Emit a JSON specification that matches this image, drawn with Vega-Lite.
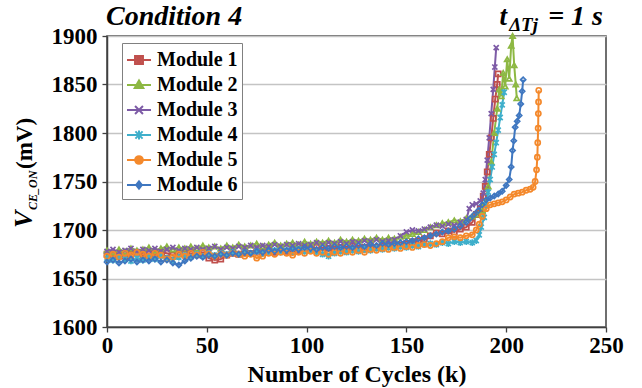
{
  "$schema": "https://vega.github.io/schema/vega-lite/v6.json",
  "width": 499,
  "height": 291,
  "autosize": {"type": "none"},
  "padding": {"left": 107, "top": 36, "right": 36, "bottom": 61},
  "background": "white",
  "config": {
    "view": {"stroke": "#404040", "strokeWidth": 1.5},
    "axis": {
      "labelFont": "Liberation Serif",
      "labelFontSize": 23,
      "labelFontWeight": "bold",
      "labelColor": "black",
      "titleFont": "Liberation Serif",
      "titleFontSize": 24,
      "titleFontWeight": "bold",
      "titleColor": "black",
      "domainColor": "#404040",
      "domainWidth": 1.5,
      "tickColor": "#404040",
      "tickWidth": 1.3,
      "tickSize": 5
    }
  },
  "resolve": {"scale": {"shape": "independent", "color": "independent"}},
  "data": {
    "values": [
      {"Module":"Module 1","k":0,"v":1675},{"Module":"Module 1","k":3,"v":1674},{"Module":"Module 1","k":6,"v":1676},{"Module":"Module 1","k":9,"v":1673},{"Module":"Module 1","k":12,"v":1675},{"Module":"Module 1","k":15,"v":1677},{"Module":"Module 1","k":18,"v":1674},{"Module":"Module 1","k":21,"v":1676},{"Module":"Module 1","k":24,"v":1675},{"Module":"Module 1","k":27,"v":1677},{"Module":"Module 1","k":30,"v":1676},{"Module":"Module 1","k":33,"v":1674},{"Module":"Module 1","k":36,"v":1677},{"Module":"Module 1","k":39,"v":1675},{"Module":"Module 1","k":42,"v":1678},{"Module":"Module 1","k":45,"v":1676},{"Module":"Module 1","k":48,"v":1674},{"Module":"Module 1","k":51,"v":1671},{"Module":"Module 1","k":54,"v":1669},{"Module":"Module 1","k":57,"v":1670},{"Module":"Module 1","k":60,"v":1674},{"Module":"Module 1","k":63,"v":1676},{"Module":"Module 1","k":66,"v":1675},{"Module":"Module 1","k":69,"v":1677},{"Module":"Module 1","k":72,"v":1676},{"Module":"Module 1","k":75,"v":1678},{"Module":"Module 1","k":78,"v":1677},{"Module":"Module 1","k":81,"v":1679},{"Module":"Module 1","k":84,"v":1677},{"Module":"Module 1","k":87,"v":1680},{"Module":"Module 1","k":90,"v":1678},{"Module":"Module 1","k":93,"v":1680},{"Module":"Module 1","k":96,"v":1679},{"Module":"Module 1","k":99,"v":1681},{"Module":"Module 1","k":102,"v":1680},{"Module":"Module 1","k":105,"v":1682},{"Module":"Module 1","k":108,"v":1679},{"Module":"Module 1","k":111,"v":1681},{"Module":"Module 1","k":114,"v":1680},{"Module":"Module 1","k":117,"v":1682},{"Module":"Module 1","k":120,"v":1680},{"Module":"Module 1","k":123,"v":1683},{"Module":"Module 1","k":126,"v":1681},{"Module":"Module 1","k":129,"v":1682},{"Module":"Module 1","k":132,"v":1684},{"Module":"Module 1","k":135,"v":1682},{"Module":"Module 1","k":138,"v":1684},{"Module":"Module 1","k":141,"v":1683},{"Module":"Module 1","k":144,"v":1685},{"Module":"Module 1","k":147,"v":1684},{"Module":"Module 1","k":150,"v":1686},{"Module":"Module 1","k":153,"v":1688},{"Module":"Module 1","k":156,"v":1689},{"Module":"Module 1","k":159,"v":1691},{"Module":"Module 1","k":162,"v":1694},{"Module":"Module 1","k":165,"v":1697},{"Module":"Module 1","k":168,"v":1696},{"Module":"Module 1","k":171,"v":1699},{"Module":"Module 1","k":174,"v":1698},{"Module":"Module 1","k":177,"v":1701},{"Module":"Module 1","k":180,"v":1703},{"Module":"Module 1","k":183,"v":1708},{"Module":"Module 1","k":185,"v":1716},{"Module":"Module 1","k":187,"v":1722},{"Module":"Module 1","k":188.5,"v":1735},{"Module":"Module 1","k":189.5,"v":1745},{"Module":"Module 1","k":190.5,"v":1760},{"Module":"Module 1","k":191.5,"v":1778},{"Module":"Module 1","k":192.5,"v":1795},{"Module":"Module 1","k":193.5,"v":1815},{"Module":"Module 1","k":194.5,"v":1835},{"Module":"Module 1","k":195.5,"v":1850},{"Module":"Module 1","k":196,"v":1861},

      {"Module":"Module 2","k":0,"v":1679},{"Module":"Module 2","k":3,"v":1677},{"Module":"Module 2","k":6,"v":1680},{"Module":"Module 2","k":9,"v":1678},{"Module":"Module 2","k":12,"v":1681},{"Module":"Module 2","k":15,"v":1679},{"Module":"Module 2","k":18,"v":1680},{"Module":"Module 2","k":21,"v":1682},{"Module":"Module 2","k":24,"v":1679},{"Module":"Module 2","k":27,"v":1681},{"Module":"Module 2","k":30,"v":1683},{"Module":"Module 2","k":33,"v":1680},{"Module":"Module 2","k":36,"v":1682},{"Module":"Module 2","k":39,"v":1681},{"Module":"Module 2","k":42,"v":1683},{"Module":"Module 2","k":45,"v":1681},{"Module":"Module 2","k":48,"v":1684},{"Module":"Module 2","k":51,"v":1682},{"Module":"Module 2","k":54,"v":1683},{"Module":"Module 2","k":57,"v":1681},{"Module":"Module 2","k":60,"v":1684},{"Module":"Module 2","k":63,"v":1682},{"Module":"Module 2","k":66,"v":1685},{"Module":"Module 2","k":69,"v":1683},{"Module":"Module 2","k":72,"v":1684},{"Module":"Module 2","k":75,"v":1686},{"Module":"Module 2","k":78,"v":1683},{"Module":"Module 2","k":81,"v":1685},{"Module":"Module 2","k":84,"v":1687},{"Module":"Module 2","k":87,"v":1684},{"Module":"Module 2","k":90,"v":1686},{"Module":"Module 2","k":93,"v":1687},{"Module":"Module 2","k":96,"v":1685},{"Module":"Module 2","k":99,"v":1688},{"Module":"Module 2","k":102,"v":1686},{"Module":"Module 2","k":105,"v":1688},{"Module":"Module 2","k":108,"v":1687},{"Module":"Module 2","k":111,"v":1689},{"Module":"Module 2","k":114,"v":1687},{"Module":"Module 2","k":117,"v":1690},{"Module":"Module 2","k":120,"v":1688},{"Module":"Module 2","k":123,"v":1690},{"Module":"Module 2","k":126,"v":1689},{"Module":"Module 2","k":129,"v":1691},{"Module":"Module 2","k":132,"v":1690},{"Module":"Module 2","k":135,"v":1692},{"Module":"Module 2","k":138,"v":1690},{"Module":"Module 2","k":141,"v":1692},{"Module":"Module 2","k":144,"v":1691},{"Module":"Module 2","k":147,"v":1693},{"Module":"Module 2","k":150,"v":1694},{"Module":"Module 2","k":153,"v":1696},{"Module":"Module 2","k":156,"v":1698},{"Module":"Module 2","k":159,"v":1700},{"Module":"Module 2","k":162,"v":1703},{"Module":"Module 2","k":165,"v":1705},{"Module":"Module 2","k":168,"v":1707},{"Module":"Module 2","k":171,"v":1708},{"Module":"Module 2","k":174,"v":1710},{"Module":"Module 2","k":177,"v":1709},{"Module":"Module 2","k":180,"v":1712},{"Module":"Module 2","k":183,"v":1714},{"Module":"Module 2","k":186,"v":1716},{"Module":"Module 2","k":188,"v":1720},{"Module":"Module 2","k":189.5,"v":1728},{"Module":"Module 2","k":191,"v":1745},{"Module":"Module 2","k":192.5,"v":1770},{"Module":"Module 2","k":194,"v":1800},{"Module":"Module 2","k":195.5,"v":1825},{"Module":"Module 2","k":196.5,"v":1845},{"Module":"Module 2","k":197.5,"v":1838},{"Module":"Module 2","k":198.5,"v":1862},{"Module":"Module 2","k":199.5,"v":1848},{"Module":"Module 2","k":200.5,"v":1876},{"Module":"Module 2","k":201.5,"v":1856},{"Module":"Module 2","k":202.5,"v":1890},{"Module":"Module 2","k":203.2,"v":1900},{"Module":"Module 2","k":204,"v":1870},{"Module":"Module 2","k":204.8,"v":1850},{"Module":"Module 2","k":205.3,"v":1836},

      {"Module":"Module 3","k":0,"v":1678},{"Module":"Module 3","k":3,"v":1680},{"Module":"Module 3","k":6,"v":1677},{"Module":"Module 3","k":9,"v":1679},{"Module":"Module 3","k":12,"v":1681},{"Module":"Module 3","k":15,"v":1678},{"Module":"Module 3","k":18,"v":1680},{"Module":"Module 3","k":21,"v":1679},{"Module":"Module 3","k":24,"v":1681},{"Module":"Module 3","k":27,"v":1678},{"Module":"Module 3","k":30,"v":1680},{"Module":"Module 3","k":33,"v":1682},{"Module":"Module 3","k":36,"v":1679},{"Module":"Module 3","k":39,"v":1681},{"Module":"Module 3","k":42,"v":1680},{"Module":"Module 3","k":45,"v":1682},{"Module":"Module 3","k":48,"v":1680},{"Module":"Module 3","k":51,"v":1681},{"Module":"Module 3","k":54,"v":1683},{"Module":"Module 3","k":57,"v":1680},{"Module":"Module 3","k":60,"v":1682},{"Module":"Module 3","k":63,"v":1681},{"Module":"Module 3","k":66,"v":1683},{"Module":"Module 3","k":69,"v":1682},{"Module":"Module 3","k":72,"v":1684},{"Module":"Module 3","k":75,"v":1682},{"Module":"Module 3","k":78,"v":1684},{"Module":"Module 3","k":81,"v":1683},{"Module":"Module 3","k":84,"v":1685},{"Module":"Module 3","k":87,"v":1683},{"Module":"Module 3","k":90,"v":1685},{"Module":"Module 3","k":93,"v":1684},{"Module":"Module 3","k":96,"v":1686},{"Module":"Module 3","k":99,"v":1684},{"Module":"Module 3","k":102,"v":1685},{"Module":"Module 3","k":105,"v":1687},{"Module":"Module 3","k":108,"v":1685},{"Module":"Module 3","k":111,"v":1687},{"Module":"Module 3","k":114,"v":1686},{"Module":"Module 3","k":117,"v":1688},{"Module":"Module 3","k":120,"v":1686},{"Module":"Module 3","k":123,"v":1688},{"Module":"Module 3","k":126,"v":1687},{"Module":"Module 3","k":129,"v":1689},{"Module":"Module 3","k":132,"v":1688},{"Module":"Module 3","k":135,"v":1690},{"Module":"Module 3","k":138,"v":1688},{"Module":"Module 3","k":141,"v":1689},{"Module":"Module 3","k":144,"v":1690},{"Module":"Module 3","k":147,"v":1694},{"Module":"Module 3","k":150,"v":1698},{"Module":"Module 3","k":153,"v":1700},{"Module":"Module 3","k":156,"v":1699},{"Module":"Module 3","k":159,"v":1701},{"Module":"Module 3","k":162,"v":1703},{"Module":"Module 3","k":165,"v":1705},{"Module":"Module 3","k":168,"v":1704},{"Module":"Module 3","k":171,"v":1706},{"Module":"Module 3","k":174,"v":1705},{"Module":"Module 3","k":177,"v":1708},{"Module":"Module 3","k":180,"v":1711},{"Module":"Module 3","k":181.5,"v":1722},{"Module":"Module 3","k":183,"v":1726},{"Module":"Module 3","k":185,"v":1727},{"Module":"Module 3","k":187,"v":1730},{"Module":"Module 3","k":188.5,"v":1738},{"Module":"Module 3","k":189.5,"v":1752},{"Module":"Module 3","k":190.5,"v":1772},{"Module":"Module 3","k":191.5,"v":1795},{"Module":"Module 3","k":192.5,"v":1820},{"Module":"Module 3","k":193.5,"v":1845},{"Module":"Module 3","k":194.3,"v":1868},{"Module":"Module 3","k":195,"v":1888},

      {"Module":"Module 4","k":0,"v":1671},{"Module":"Module 4","k":3,"v":1669},{"Module":"Module 4","k":6,"v":1672},{"Module":"Module 4","k":9,"v":1670},{"Module":"Module 4","k":12,"v":1668},{"Module":"Module 4","k":15,"v":1671},{"Module":"Module 4","k":18,"v":1669},{"Module":"Module 4","k":21,"v":1672},{"Module":"Module 4","k":24,"v":1670},{"Module":"Module 4","k":27,"v":1673},{"Module":"Module 4","k":30,"v":1671},{"Module":"Module 4","k":33,"v":1669},{"Module":"Module 4","k":36,"v":1672},{"Module":"Module 4","k":39,"v":1674},{"Module":"Module 4","k":42,"v":1672},{"Module":"Module 4","k":45,"v":1675},{"Module":"Module 4","k":48,"v":1673},{"Module":"Module 4","k":51,"v":1676},{"Module":"Module 4","k":54,"v":1674},{"Module":"Module 4","k":57,"v":1676},{"Module":"Module 4","k":60,"v":1675},{"Module":"Module 4","k":63,"v":1677},{"Module":"Module 4","k":66,"v":1675},{"Module":"Module 4","k":69,"v":1677},{"Module":"Module 4","k":72,"v":1676},{"Module":"Module 4","k":75,"v":1678},{"Module":"Module 4","k":78,"v":1676},{"Module":"Module 4","k":81,"v":1677},{"Module":"Module 4","k":84,"v":1679},{"Module":"Module 4","k":87,"v":1677},{"Module":"Module 4","k":90,"v":1679},{"Module":"Module 4","k":93,"v":1678},{"Module":"Module 4","k":96,"v":1680},{"Module":"Module 4","k":99,"v":1678},{"Module":"Module 4","k":102,"v":1679},{"Module":"Module 4","k":105,"v":1677},{"Module":"Module 4","k":108,"v":1675},{"Module":"Module 4","k":111,"v":1673},{"Module":"Module 4","k":114,"v":1676},{"Module":"Module 4","k":117,"v":1678},{"Module":"Module 4","k":120,"v":1677},{"Module":"Module 4","k":123,"v":1679},{"Module":"Module 4","k":126,"v":1678},{"Module":"Module 4","k":129,"v":1680},{"Module":"Module 4","k":132,"v":1679},{"Module":"Module 4","k":135,"v":1681},{"Module":"Module 4","k":138,"v":1680},{"Module":"Module 4","k":141,"v":1682},{"Module":"Module 4","k":144,"v":1681},{"Module":"Module 4","k":147,"v":1683},{"Module":"Module 4","k":150,"v":1682},{"Module":"Module 4","k":153,"v":1684},{"Module":"Module 4","k":156,"v":1683},{"Module":"Module 4","k":159,"v":1685},{"Module":"Module 4","k":162,"v":1686},{"Module":"Module 4","k":165,"v":1685},{"Module":"Module 4","k":168,"v":1687},{"Module":"Module 4","k":171,"v":1686},{"Module":"Module 4","k":174,"v":1688},{"Module":"Module 4","k":177,"v":1687},{"Module":"Module 4","k":180,"v":1688},{"Module":"Module 4","k":183,"v":1687},{"Module":"Module 4","k":185,"v":1689},{"Module":"Module 4","k":186.5,"v":1695},{"Module":"Module 4","k":187.5,"v":1703},{"Module":"Module 4","k":189,"v":1713},{"Module":"Module 4","k":190,"v":1726},{"Module":"Module 4","k":191,"v":1739},{"Module":"Module 4","k":192,"v":1752},{"Module":"Module 4","k":193,"v":1765},{"Module":"Module 4","k":194,"v":1778},{"Module":"Module 4","k":195,"v":1790},{"Module":"Module 4","k":196,"v":1803},{"Module":"Module 4","k":197,"v":1816},{"Module":"Module 4","k":198,"v":1829},{"Module":"Module 4","k":199,"v":1842},

      {"Module":"Module 5","k":0,"v":1673},{"Module":"Module 5","k":3,"v":1675},{"Module":"Module 5","k":6,"v":1672},{"Module":"Module 5","k":9,"v":1676},{"Module":"Module 5","k":12,"v":1674},{"Module":"Module 5","k":15,"v":1677},{"Module":"Module 5","k":18,"v":1675},{"Module":"Module 5","k":21,"v":1673},{"Module":"Module 5","k":24,"v":1676},{"Module":"Module 5","k":27,"v":1674},{"Module":"Module 5","k":30,"v":1670},{"Module":"Module 5","k":33,"v":1672},{"Module":"Module 5","k":36,"v":1675},{"Module":"Module 5","k":39,"v":1673},{"Module":"Module 5","k":42,"v":1676},{"Module":"Module 5","k":45,"v":1674},{"Module":"Module 5","k":48,"v":1677},{"Module":"Module 5","k":51,"v":1675},{"Module":"Module 5","k":54,"v":1673},{"Module":"Module 5","k":57,"v":1675},{"Module":"Module 5","k":60,"v":1674},{"Module":"Module 5","k":63,"v":1676},{"Module":"Module 5","k":66,"v":1675},{"Module":"Module 5","k":69,"v":1673},{"Module":"Module 5","k":72,"v":1675},{"Module":"Module 5","k":75,"v":1671},{"Module":"Module 5","k":78,"v":1673},{"Module":"Module 5","k":81,"v":1676},{"Module":"Module 5","k":84,"v":1675},{"Module":"Module 5","k":87,"v":1677},{"Module":"Module 5","k":90,"v":1676},{"Module":"Module 5","k":93,"v":1674},{"Module":"Module 5","k":96,"v":1677},{"Module":"Module 5","k":99,"v":1676},{"Module":"Module 5","k":102,"v":1678},{"Module":"Module 5","k":105,"v":1676},{"Module":"Module 5","k":108,"v":1677},{"Module":"Module 5","k":111,"v":1675},{"Module":"Module 5","k":114,"v":1677},{"Module":"Module 5","k":117,"v":1676},{"Module":"Module 5","k":120,"v":1678},{"Module":"Module 5","k":123,"v":1677},{"Module":"Module 5","k":126,"v":1679},{"Module":"Module 5","k":129,"v":1677},{"Module":"Module 5","k":132,"v":1680},{"Module":"Module 5","k":135,"v":1679},{"Module":"Module 5","k":138,"v":1681},{"Module":"Module 5","k":141,"v":1680},{"Module":"Module 5","k":144,"v":1682},{"Module":"Module 5","k":147,"v":1681},{"Module":"Module 5","k":150,"v":1683},{"Module":"Module 5","k":153,"v":1682},{"Module":"Module 5","k":156,"v":1684},{"Module":"Module 5","k":159,"v":1685},{"Module":"Module 5","k":162,"v":1684},{"Module":"Module 5","k":165,"v":1686},{"Module":"Module 5","k":168,"v":1688},{"Module":"Module 5","k":171,"v":1692},{"Module":"Module 5","k":174,"v":1693},{"Module":"Module 5","k":177,"v":1692},{"Module":"Module 5","k":180,"v":1694},{"Module":"Module 5","k":183,"v":1695},{"Module":"Module 5","k":185,"v":1700},{"Module":"Module 5","k":186.5,"v":1706},{"Module":"Module 5","k":188,"v":1714},{"Module":"Module 5","k":190,"v":1722},{"Module":"Module 5","k":192,"v":1726},{"Module":"Module 5","k":194,"v":1727},{"Module":"Module 5","k":196,"v":1728},{"Module":"Module 5","k":198,"v":1729},{"Module":"Module 5","k":200,"v":1731},{"Module":"Module 5","k":202,"v":1734},{"Module":"Module 5","k":204,"v":1737},{"Module":"Module 5","k":206,"v":1738},{"Module":"Module 5","k":208,"v":1739},{"Module":"Module 5","k":210,"v":1741},{"Module":"Module 5","k":212,"v":1742},{"Module":"Module 5","k":213.5,"v":1744},{"Module":"Module 5","k":214.5,"v":1750},{"Module":"Module 5","k":215.2,"v":1762},{"Module":"Module 5","k":215.6,"v":1775},{"Module":"Module 5","k":215.8,"v":1790},{"Module":"Module 5","k":216,"v":1805},{"Module":"Module 5","k":216.1,"v":1820},{"Module":"Module 5","k":216.2,"v":1832},{"Module":"Module 5","k":216.3,"v":1844},

      {"Module":"Module 6","k":0,"v":1667},{"Module":"Module 6","k":3,"v":1669},{"Module":"Module 6","k":6,"v":1666},{"Module":"Module 6","k":9,"v":1668},{"Module":"Module 6","k":12,"v":1670},{"Module":"Module 6","k":15,"v":1667},{"Module":"Module 6","k":18,"v":1669},{"Module":"Module 6","k":21,"v":1668},{"Module":"Module 6","k":24,"v":1670},{"Module":"Module 6","k":27,"v":1667},{"Module":"Module 6","k":30,"v":1669},{"Module":"Module 6","k":33,"v":1666},{"Module":"Module 6","k":36,"v":1664},{"Module":"Module 6","k":39,"v":1668},{"Module":"Module 6","k":42,"v":1671},{"Module":"Module 6","k":45,"v":1673},{"Module":"Module 6","k":48,"v":1672},{"Module":"Module 6","k":51,"v":1674},{"Module":"Module 6","k":54,"v":1673},{"Module":"Module 6","k":57,"v":1675},{"Module":"Module 6","k":60,"v":1674},{"Module":"Module 6","k":63,"v":1676},{"Module":"Module 6","k":66,"v":1675},{"Module":"Module 6","k":69,"v":1677},{"Module":"Module 6","k":72,"v":1676},{"Module":"Module 6","k":75,"v":1678},{"Module":"Module 6","k":78,"v":1677},{"Module":"Module 6","k":81,"v":1679},{"Module":"Module 6","k":84,"v":1678},{"Module":"Module 6","k":87,"v":1680},{"Module":"Module 6","k":90,"v":1679},{"Module":"Module 6","k":93,"v":1681},{"Module":"Module 6","k":96,"v":1680},{"Module":"Module 6","k":99,"v":1682},{"Module":"Module 6","k":102,"v":1681},{"Module":"Module 6","k":105,"v":1680},{"Module":"Module 6","k":108,"v":1682},{"Module":"Module 6","k":111,"v":1681},{"Module":"Module 6","k":114,"v":1683},{"Module":"Module 6","k":117,"v":1682},{"Module":"Module 6","k":120,"v":1683},{"Module":"Module 6","k":123,"v":1682},{"Module":"Module 6","k":126,"v":1684},{"Module":"Module 6","k":129,"v":1683},{"Module":"Module 6","k":132,"v":1685},{"Module":"Module 6","k":135,"v":1684},{"Module":"Module 6","k":138,"v":1686},{"Module":"Module 6","k":141,"v":1685},{"Module":"Module 6","k":144,"v":1686},{"Module":"Module 6","k":147,"v":1687},{"Module":"Module 6","k":150,"v":1688},{"Module":"Module 6","k":153,"v":1689},{"Module":"Module 6","k":156,"v":1691},{"Module":"Module 6","k":159,"v":1692},{"Module":"Module 6","k":162,"v":1694},{"Module":"Module 6","k":165,"v":1696},{"Module":"Module 6","k":168,"v":1698},{"Module":"Module 6","k":171,"v":1699},{"Module":"Module 6","k":174,"v":1701},{"Module":"Module 6","k":177,"v":1704},{"Module":"Module 6","k":180,"v":1708},{"Module":"Module 6","k":182,"v":1712},{"Module":"Module 6","k":184,"v":1716},{"Module":"Module 6","k":186,"v":1720},{"Module":"Module 6","k":188,"v":1726},{"Module":"Module 6","k":190,"v":1731},{"Module":"Module 6","k":192,"v":1733},{"Module":"Module 6","k":194,"v":1735},{"Module":"Module 6","k":196,"v":1737},{"Module":"Module 6","k":198,"v":1740},{"Module":"Module 6","k":200,"v":1746},{"Module":"Module 6","k":201.5,"v":1752},{"Module":"Module 6","k":202.5,"v":1765},{"Module":"Module 6","k":203.2,"v":1782},{"Module":"Module 6","k":203.8,"v":1792},{"Module":"Module 6","k":204.5,"v":1806},{"Module":"Module 6","k":205.5,"v":1812},{"Module":"Module 6","k":206.5,"v":1818},{"Module":"Module 6","k":207.3,"v":1830},{"Module":"Module 6","k":208,"v":1843},{"Module":"Module 6","k":208.5,"v":1855}
    ]
  },
  "layer": [
    {
      "mark": {"type": "line", "strokeWidth": 2},
      "encoding": {
        "x": {
          "field": "k", "type": "quantitative",
          "scale": {"domain": [0, 250], "nice": false},
          "axis": {"values": [0, 50, 100, 150, 200, 250], "format": "d", "grid": false, "labelFlush": false, "title": "Number of Cycles (k)", "labelFont": "Liberation Serif", "labelFontSize": 23, "labelFontWeight": "bold", "labelColor": "black", "labelPadding": 2, "titleBaseline": "alphabetic", "titleY": 54}
        },
        "y": {
          "field": "v", "type": "quantitative",
          "scale": {"domain": [1600, 1900], "nice": false, "zero": false},
          "axis": {"values": [1600, 1650, 1700, 1750, 1800, 1850, 1900], "format": "d", "grid": true, "labelFlush": false, "gridColor": "#c4c4c4", "gridWidth": 1.5, "title": null, "labelFont": "Liberation Serif", "labelFontSize": 23, "labelFontWeight": "bold", "labelColor": "black", "labelPadding": 5}
        },
        "color": {
          "field": "Module", "type": "nominal",
          "scale": {"domain": ["Module 1", "Module 2", "Module 3", "Module 4", "Module 5", "Module 6"], "range": ["#C0504D", "#8DB843", "#7D5BA6", "#3FAFCB", "#F4892C", "#3F77C0"]},
          "legend": null
        }
      }
    },
    {
      "mark": {"type": "point", "filled": false, "size": 26, "strokeWidth": 1.7, "opacity": 1},
      "encoding": {
        "x": {"field": "k", "type": "quantitative"},
        "y": {"field": "v", "type": "quantitative"},
        "color": {
          "field": "Module", "type": "nominal",
          "scale": {"domain": ["Module 1", "Module 2", "Module 3", "Module 4", "Module 5", "Module 6"], "range": ["#C0504D", "#8DB843", "#7D5BA6", "#3FAFCB", "#F4892C", "#3F77C0"]},
          "legend": null
        },
        "shape": {
          "field": "Module", "type": "nominal",
          "scale": {"domain": ["Module 1", "Module 2", "Module 3", "Module 4", "Module 5", "Module 6"], "range": ["square", "triangle-up", "M-1,-1L1,1M-1,1L1,-1", "M-1,-1L1,1M-1,1L1,-1M0,-1.3V1.3", "circle", "diamond"]},
          "legend": null
        }
      }
    },
    {
      "data": {"values": []},
      "mark": {"type": "point", "filled": false, "opacity": 1, "strokeWidth": 2},
      "encoding": {
        "x": {"field": "k", "type": "quantitative"},
        "y": {"field": "v", "type": "quantitative"},
        "color": {
          "field": "Module", "type": "nominal",
          "scale": {"domain": ["Module 1", "Module 2", "Module 3", "Module 4", "Module 5", "Module 6"], "range": ["#C0504D", "#8DB843", "#7D5BA6", "#3FAFCB", "#F4892C", "#3F77C0"]},
          "legend": {
            "title": null, "orient": "none", "legendX": 15, "legendY": 7,
            "fillColor": "white", "strokeColor": "#808080", "padding": 4, "rowPadding": 2,
            "labelFont": "Liberation Serif", "labelFontSize": 20, "labelFontWeight": "bold", "labelColor": "black", "labelOffset": 5,
            "symbolSize": 576, "symbolStrokeWidth": 2, "symbolOpacity": 1
          }
        },
        "shape": {
          "field": "Module", "type": "nominal",
          "scale": {"domain": ["Module 1", "Module 2", "Module 3", "Module 4", "Module 5", "Module 6"], "range": [
            "M-1,0H1M-0.33,-0.33H0.33V0.33H-0.33ZM-0.16,-0.16H0.16V0.16H-0.16ZM-0.04,-0.04H0.04V0.04H-0.04Z",
            "M-1,0H1M0,-0.38L0.36,0.26H-0.36ZM0,-0.18L0.17,0.13H-0.17Z",
            "M-1,0H1M-0.33,-0.33L0.33,0.33M-0.33,0.33L0.33,-0.33",
            "M-1,0H1M-0.3,-0.3L0.3,0.3M-0.3,0.3L0.3,-0.3M0,-0.38V0.38",
            "M-1,0H1M0.32,0A0.32,0.32,0,1,1,-0.32,0A0.32,0.32,0,1,1,0.32,0ZM0.15,0A0.15,0.15,0,1,1,-0.15,0A0.15,0.15,0,1,1,0.15,0Z",
            "M-1,0H1M0,-0.3L0.24,0L0,0.3L-0.24,0ZM0,-0.12L0.1,0L0,0.12L-0.1,0Z"
          ]},
          "legend": {
            "title": null, "orient": "none", "legendX": 15, "legendY": 7,
            "fillColor": "white", "strokeColor": "#808080", "padding": 4, "rowPadding": 2,
            "labelFont": "Liberation Serif", "labelFontSize": 20, "labelFontWeight": "bold", "labelColor": "black", "labelOffset": 5,
            "symbolSize": 576, "symbolStrokeWidth": 2, "symbolOpacity": 1
          }
        }
      }
    },
    {
      "data": {"values": [{}]},
      "mark": {"type": "text", "text": "Condition 4", "align": "left", "baseline": "alphabetic", "dx": -1, "dy": -11, "font": "Liberation Serif", "fontSize": 28, "fontWeight": "bold", "fontStyle": "italic", "color": "black"},
      "encoding": {"x": {"datum": 0, "type": "quantitative"}, "y": {"datum": 1900, "type": "quantitative"}}
    },
    {
      "data": {"values": [{}]},
      "mark": {"type": "text", "text": "V", "angle": 270, "align": "left", "baseline": "alphabetic", "dx": -46.5, "dy": -75, "font": "Liberation Serif", "fontSize": 26, "fontWeight": "bold", "fontStyle": "italic", "color": "black"},
      "encoding": {"x": {"datum": 0, "type": "quantitative"}, "y": {"datum": 1750, "type": "quantitative"}}
    },
    {
      "data": {"values": [{}]},
      "mark": {"type": "text", "text": "CE_ON", "angle": 270, "align": "left", "baseline": "alphabetic", "dx": -28.5, "dy": -70, "font": "Liberation Serif", "fontSize": 12, "fontWeight": "bold", "fontStyle": "italic", "color": "black"},
      "encoding": {"x": {"datum": 0, "type": "quantitative"}, "y": {"datum": 1750, "type": "quantitative"}}
    },
    {
      "data": {"values": [{}]},
      "mark": {"type": "text", "text": "(mV)", "angle": 270, "align": "left", "baseline": "alphabetic", "dx": 12.5, "dy": -75, "font": "Liberation Serif", "fontSize": 23, "fontWeight": "bold", "color": "black"},
      "encoding": {"x": {"datum": 0, "type": "quantitative"}, "y": {"datum": 1750, "type": "quantitative"}}
    },
    {
      "data": {"values": [{}]},
      "mark": {"type": "text", "text": "t", "align": "right", "baseline": "alphabetic", "dx": -99, "dy": -11, "font": "Liberation Serif", "fontSize": 27, "fontWeight": "bold", "fontStyle": "italic", "color": "black"},
      "encoding": {"x": {"datum": 250, "type": "quantitative"}, "y": {"datum": 1900, "type": "quantitative"}}
    },
    {
      "data": {"values": [{}]},
      "mark": {"type": "text", "text": "ΔTj", "align": "right", "baseline": "alphabetic", "dx": -68, "dy": -5, "font": "Liberation Serif", "fontSize": 19, "fontWeight": "bold", "fontStyle": "italic", "color": "black"},
      "encoding": {"x": {"datum": 250, "type": "quantitative"}, "y": {"datum": 1900, "type": "quantitative"}}
    },
    {
      "data": {"values": [{}]},
      "mark": {"type": "text", "text": "= 1 s", "align": "right", "baseline": "alphabetic", "dx": -3, "dy": -11, "font": "Liberation Serif", "fontSize": 28, "fontWeight": "bold", "fontStyle": "italic", "color": "black"},
      "encoding": {"x": {"datum": 250, "type": "quantitative"}, "y": {"datum": 1900, "type": "quantitative"}}
    }
  ]
}
